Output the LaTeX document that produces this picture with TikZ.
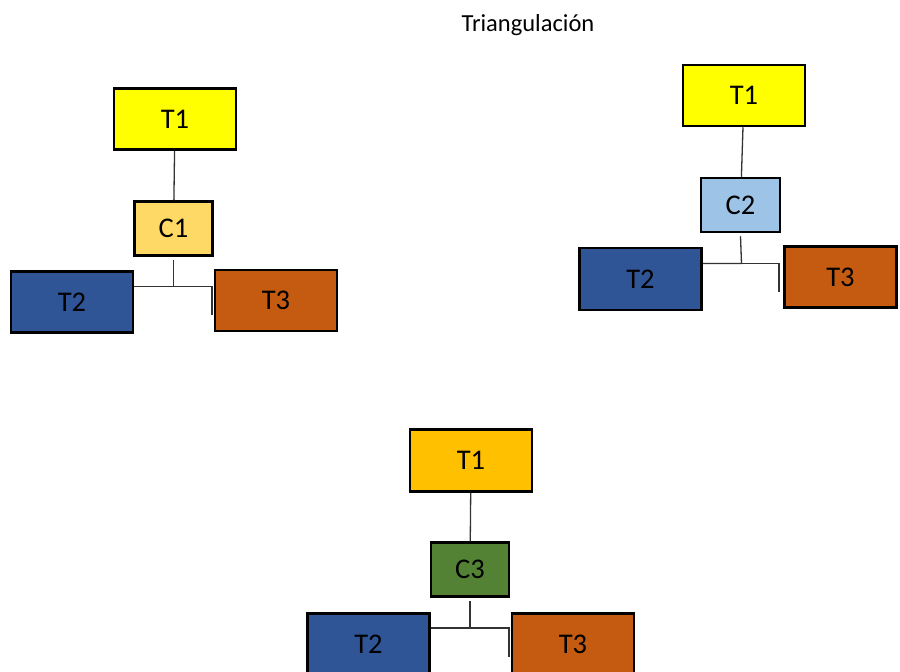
\documentclass[tikz,border=0pt]{standalone}
\usepackage{fontspec}
\setmainfont{Carlito}
\definecolor{yel}{HTML}{FFFF00}
\definecolor{gold}{HTML}{FFD966}
\definecolor{amber}{HTML}{FFC000}
\definecolor{blu}{HTML}{2F5597}
\definecolor{org}{HTML}{C55A11}
\definecolor{lblue}{HTML}{9DC3E6}
\definecolor{grn}{HTML}{548235}
\begin{document}
\begin{tikzpicture}[x=1pt,y=-1pt,
  box/.style={draw=black,line width=2.5pt,rectangle,inner sep=0pt,font=\fontsize{28.5}{30}\selectfont},
  big/.style={box,minimum width=122pt,minimum height=61pt},
  small/.style={box,minimum width=78pt,minimum height=54pt},
  link/.style={draw=black!80,line width=1.3pt}]
\useasboundingbox (0,0) rectangle (900,672);
\node[font=\fontsize{24.5}{26}\selectfont] (title) at (528,25) {Triangulación};
% group 1
\node[big,fill=yel] (a1) at (175,119) {T1};
\node[small,fill=gold] (c1) at (173.5,228.5) {C1};
\node[big,fill=blu] (a2) at (72,302) {T2};
\node[big,fill=org] (a3) at (276,300.5) {T3};
\draw[link] (a1) -- (c1);
\coordinate (j1) at (173.5,286.5);
\coordinate (e1) at (212,286.5);
\coordinate (f1) at (212,315);
\draw[link] (c1.south) ++(0,3) -- (j1) -- (j1 -| a2.east);
\draw[link] (j1) -- (e1) -- (f1);
% group 2
\node[big,fill=yel] (b1) at (744,95.5) {T1};
\node[small,fill=lblue,minimum width=79pt] (c2) at (740.5,205) {C2};
\node[big,fill=blu,minimum height=62pt] (b2) at (640.5,279) {T2};
\node[box,fill=org,minimum width=112pt,minimum height=61pt] (b3) at (840.5,277) {T3};
\draw[link] (b1) -- (c2);
\coordinate (j2) at (741.5,263.5);
\coordinate (e2) at (779,263.5);
\coordinate (f2) at (779,292);
\draw[link] (c2.south) ++(0,3) -- (j2) -- (j2 -| b2.east);
\draw[link] (j2) -- (e2) -- (f2);
% group 3
\node[big,fill=amber,minimum height=62pt] (d1) at (471,460.5) {T1};
\node[small,fill=grn] (c3) at (470,569.5) {C3};
\node[big,fill=blu] (d2) at (368.5,644) {T2};
\node[big,fill=org] (d3) at (573,644) {T3};
\draw[link] (d1) -- (c3);
\coordinate (j3) at (470,628);
\coordinate (e3) at (509,628);
\coordinate (f3) at (509,657);
\draw[link] (c3.south) ++(0,3) -- (j3) -- (j3 -| d2.east);
\draw[link] (j3) -- (e3) -- (f3);
\end{tikzpicture}
\end{document}
